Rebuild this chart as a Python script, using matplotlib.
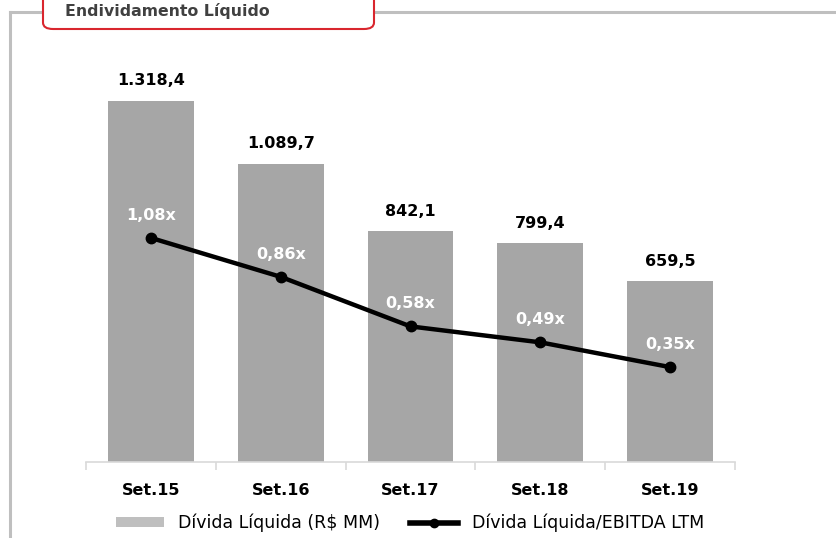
import matplotlib
matplotlib.use("Agg")
import matplotlib.pyplot as plt
from matplotlib.patches import FancyBboxPatch, Patch
from matplotlib.lines import Line2D

categories = ["Set.15", "Set.16", "Set.17", "Set.18", "Set.19"]
divida = [1318.4, 1089.7, 842.1, 799.4, 659.5]
divida_labels = ["1.318,4", "1.089,7", "842,1", "799,4", "659,5"]
ratio = [1.08, 0.86, 0.58, 0.49, 0.35]
ratio_labels = ["1,08x", "0,86x", "0,58x", "0,49x", "0,35x"]

plt.rcParams['font.family'] = ['DejaVu Sans']

W, H = 837, 538
fig = plt.figure(figsize=(W / 100, H / 100), dpi=100)

def fx(x): return x / W
def fy(y): return 1 - y / H

fig.add_artist(Line2D([fx(10), fx(837)], [fy(12), fy(12)], color="#BFBFBF", lw=2.2))
fig.add_artist(Line2D([fx(10), fx(10)], [fy(12), fy(538)], color="#BFBFBF", lw=2.2))
box = FancyBboxPatch((fx(43), fy(29)), fx(374) - fx(43), fy(-20) - fy(29),
                     boxstyle="round,pad=0,rounding_size=0.012",
                     transform=fig.transFigure, facecolor="white",
                     edgecolor="#D9262E", lw=1.5, zorder=5)
fig.add_artist(box)
fig.text(fx(65), fy(11), "Endividamento Líquido", fontsize=11.3, fontweight="bold",
         color="#404040", va="center", ha="left", zorder=6)

ax = fig.add_axes([fx(86), fy(462), (735 - 86) / W, (462 - 40) / H])
x = list(range(len(categories)))
ax.bar(x, divida, width=0.66, color="#A6A6A6", zorder=2)
ax.set_xlim(-0.5, 4.5)
ax.set_ylim(0, 1541)
for xi, v, lab in zip(x, divida, divida_labels):
    ax.annotate(lab, (xi, v), xytext=(0, 9), textcoords="offset points",
                ha="center", va="bottom", fontsize=11.5, fontweight="bold", color="#000000")

for s in ["top", "right", "left"]:
    ax.spines[s].set_visible(False)
ax.spines["bottom"].set_color("#D9D9D9")
ax.spines["bottom"].set_linewidth(1.2)
ax.set_yticks([])
ax.set_xticks([i - 0.5 for i in range(len(categories) + 1)])
ax.set_xticklabels([""] * (len(categories) + 1))
ax.tick_params(axis="x", length=6, color="#D9D9D9", width=1.2)
for xi, c in zip(x, categories):
    ax.text(xi, -0.068, c, transform=ax.get_xaxis_transform(), ha="center", va="center",
            fontsize=11.5, fontweight="bold", color="#000000")

ax2 = ax.twinx()
ax2.plot(x, ratio, color="black", lw=3.2, marker="o", markersize=7.5, zorder=4)
ax2.set_ylim(-0.186, 2.198)
ax2.set_yticks([])
for s in ax2.spines.values():
    s.set_visible(False)
for xi, v, lab in zip(x, ratio, ratio_labels):
    ax2.annotate(lab, (xi, v), xytext=(0, 11), textcoords="offset points",
                 ha="center", va="bottom", fontsize=11.5, fontweight="bold", color="white")

handles = [Patch(facecolor="#BFBFBF", edgecolor="none"),
           Line2D([0], [0], color="black", lw=4, marker="o", markersize=6)]
leg = fig.legend(handles, ["Dívida Líquida (R$ MM)", "Dívida Líquida/EBITDA LTM"],
                 loc="center", bbox_to_anchor=(fx(410), fy(523)), ncol=2, frameon=False,
                 fontsize=12.5, handlelength=2.8, handleheight=0.55, columnspacing=1.7,
                 handletextpad=0.8)
for t in leg.get_texts():
    t.set_color("#000000")

fig.savefig("out.png", dpi=100)
